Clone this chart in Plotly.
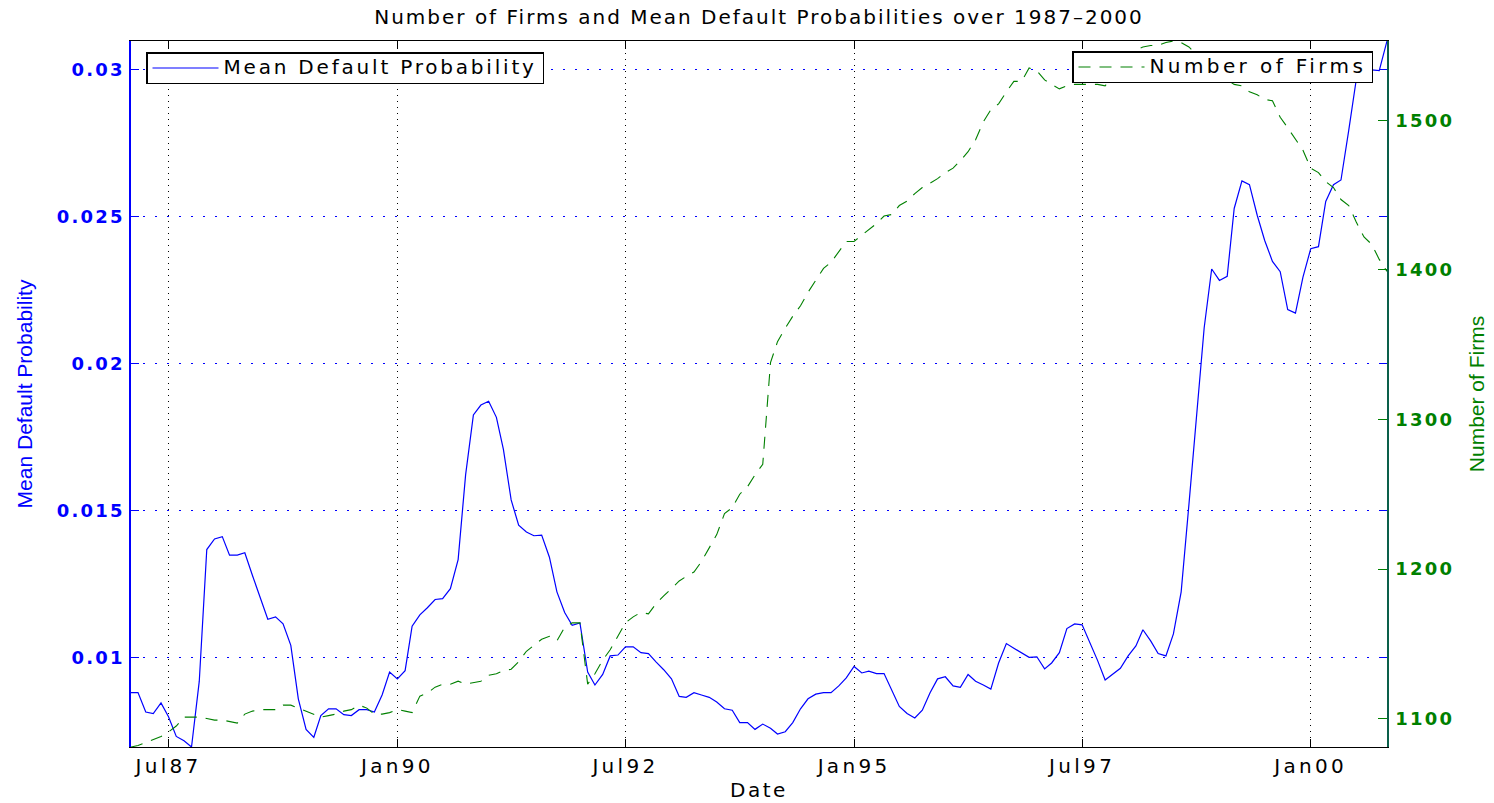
import pandas as pd
import plotly.graph_objects as go

# Monthly observations, Feb 1987 - Nov 2000
dates = pd.date_range("1987-02-01", periods=166, freq="MS")

mean_pd = [
    0.0088, 0.0088, 0.00814, 0.00809, 0.00845, 0.00798, 0.00731, 0.00716, 0.00695, 0.00919,
    0.01367, 0.01403, 0.01411, 0.01348, 0.01348, 0.01356, 0.01278, 0.01203, 0.01130, 0.01138,
    0.01114, 0.01041, 0.00859, 0.00755, 0.00728, 0.00802, 0.00825, 0.00825, 0.00805, 0.00802,
    0.00822, 0.00822, 0.00814, 0.00872, 0.0095, 0.00927, 0.00955, 0.01106, 0.01145, 0.01169,
    0.01197, 0.0120, 0.01234, 0.01333, 0.01622, 0.01825, 0.01859, 0.01872, 0.01817, 0.01708,
    0.01536, 0.0145, 0.01427, 0.01414, 0.01416, 0.01341, 0.01223, 0.01153, 0.01109, 0.01117,
    0.0095, 0.00906, 0.00942, 0.01005, 0.01008, 0.01036, 0.01036, 0.01016, 0.01013, 0.00984,
    0.00958, 0.00927, 0.00867, 0.00864, 0.0088, 0.00872, 0.00864, 0.00848, 0.00825, 0.0082,
    0.00778, 0.00778, 0.00755, 0.00773, 0.00759, 0.00739, 0.00747, 0.00778, 0.00825, 0.00859,
    0.00875, 0.0088, 0.0088, 0.00903, 0.0093, 0.00969, 0.00947, 0.00953, 0.00945, 0.00945,
    0.00887, 0.00833, 0.00809, 0.00794, 0.0082, 0.0088, 0.00927, 0.00934, 0.00903, 0.00898,
    0.00942, 0.00919, 0.00906, 0.00892, 0.00981, 0.01047, 0.01031, 0.01016, 0.0100, 0.01002,
    0.00961, 0.00981, 0.01016, 0.01098, 0.01114, 0.01111, 0.01052, 0.00989, 0.00923, 0.00942,
    0.00963, 0.01005, 0.01039, 0.01094, 0.01056, 0.01013, 0.01005, 0.0108, 0.01223, 0.0152,
    0.01817, 0.02122, 0.02322, 0.02283, 0.02297, 0.02528, 0.02622, 0.02609, 0.02505, 0.02419,
    0.02348, 0.02313, 0.02184, 0.02172, 0.02294, 0.02391, 0.02398, 0.02552, 0.02609, 0.02625,
    0.02794, 0.02966, 0.02994, 0.0300, 0.02997, 0.03098,
]

n_firms = [
    1081, 1082, 1084, 1086, 1088, 1091, 1095, 1101, 1101, 1101,
    1100, 1099, 1099, 1098, 1097, 1103, 1105, 1106, 1106, 1106,
    1109, 1109, 1107, 1105, 1103, 1101, 1102, 1103, 1105, 1106,
    1109, 1107, 1103, 1103, 1104, 1106, 1105, 1104, 1115, 1117,
    1121, 1123, 1123, 1125, 1123, 1124, 1125, 1129, 1130, 1132,
    1133, 1138, 1145, 1149, 1153, 1155, 1152, 1161, 1164, 1164,
    1123, 1130, 1139, 1146, 1155, 1164, 1168, 1171, 1170, 1177,
    1182, 1187, 1192, 1195, 1198, 1205, 1214, 1223, 1237, 1241,
    1250, 1255, 1263, 1270, 1338, 1352, 1361, 1369, 1376, 1385,
    1393, 1401, 1405, 1412, 1419, 1419, 1423, 1427, 1431, 1436,
    1437, 1443, 1446, 1451, 1455, 1458, 1461, 1465, 1468, 1473,
    1479, 1487, 1499, 1507, 1511, 1519, 1526, 1526, 1535, 1533,
    1527, 1524, 1521, 1523, 1524, 1524, 1524, 1524, 1523, 1530,
    1537, 1542, 1547, 1549, 1550, 1550, 1552, 1553, 1552, 1549,
    1544, 1539, 1535, 1530, 1527, 1524, 1523, 1519, 1517, 1514,
    1513, 1502, 1495, 1487, 1480, 1468, 1465, 1459, 1455, 1447,
    1443, 1432, 1422, 1417, 1407, 1399,
]

x_tick_dates = ["1987-07-01", "1990-01-01", "1992-07-01", "1995-01-01", "1997-07-01", "2000-01-01"]
x_tick_labels = ["Jul87", "Jan90", "Jul92", "Jan95", "Jul97", "Jan00"]
pd_ticks = [0.01, 0.015, 0.02, 0.025, 0.03]
pd_tick_labels = ["0.01", "0.015", "0.02", "0.025", "0.03"]
firm_ticks = [1100, 1200, 1300, 1400, 1500]
firm_tick_labels = ["1100", "1200", "1300", "1400", "1500"]

BLUE = "#0000ff"
GREEN = "#008000"
FONT = "DejaVu Sans, Liberation Sans, Arial, sans-serif"
SIDE_FONT = "Liberation Sans, Arial, sans-serif"


def wide(text, spacing, size=None, shift=None):
    """Wrap text in a span with wider letter spacing (optionally size / baseline shift)."""
    style = f"letter-spacing:{spacing}px"
    if size is not None:
        style += f";font-size:{size}px"
    if shift is not None:
        style += f";baseline-shift:{shift}px"
    return f'<span style="{style}">{text}</span>'


fig = go.Figure()
fig.add_trace(go.Scatter(
    x=dates, y=mean_pd, mode="lines",
    name=wide("Mean Default Probability", 2.8, 20, -2),
    line=dict(color=BLUE, width=1.2), legend="legend",
))
fig.add_trace(go.Scatter(
    x=dates, y=n_firms, mode="lines",
    name=wide("Number of Firms", 3.4, 20, -2), yaxis="y2",
    line=dict(color=GREEN, width=1.1, dash="12px,9px"), legend="legend2",
))

legend_common = dict(
    xref="paper", yref="paper", yanchor="top",
    bgcolor="white", bordercolor="black", borderwidth=1.5,
    font=dict(family=FONT, size=10, color="black"),
    itemwidth=66, tracegroupgap=0,
)

fig.update_layout(
    width=1494, height=803,
    margin=dict(l=131, r=107, t=41, b=56),
    paper_bgcolor="white", plot_bgcolor="white",
    font=dict(family=FONT, size=20, color="black"),
    title=dict(
        text=wide("Number of Firms and Mean Default Probabilities over 1987\u20132000", 2.0),
        x=0.5, xref="paper", xanchor="center",
        y=1 - 17 / 803, yref="container", yanchor="middle",
        font=dict(family=FONT, size=20, color="black"),
    ),
    xaxis=dict(
        type="date",
        range=[dates[0], dates[-1]],
        tickvals=x_tick_dates,
        ticktext=[wide(t, 3.3) for t in x_tick_labels],
        ticks="inside", ticklen=8, tickcolor="black", tickwidth=1,
        ticklabelstandoff=1,
        showline=True, linecolor="black", linewidth=1.2, mirror="ticks",
        showgrid=True, gridcolor="black", gridwidth=1, griddash="1px,5px",
        zeroline=False,
        tickfont=dict(family=FONT, size=20, color="black"),
        title=dict(text=wide("Date", 2.5), standoff=5,
                   font=dict(family=FONT, size=20, color="black")),
        automargin=False,
    ),
    yaxis=dict(
        range=[min(mean_pd), max(mean_pd)],
        tickvals=pd_ticks, ticktext=[wide(t, 2.2) for t in pd_tick_labels],
        ticks="inside", ticklen=8, tickcolor=BLUE, tickwidth=1,
        ticklabelstandoff=1,
        showline=True, linecolor=BLUE, linewidth=1.5, mirror="ticks",
        showgrid=True, gridcolor=BLUE, gridwidth=1, griddash="2px,10px",
        zeroline=False,
        tickfont=dict(family=FONT, size=18, color=BLUE, weight="bold"),
        title=dict(text="Mean Default Probability", standoff=18,
                   font=dict(family=SIDE_FONT, size=21, color=BLUE)),
        automargin=False,
    ),
    yaxis2=dict(
        overlaying="y", side="right", anchor="x",
        range=[min(n_firms), max(n_firms)],
        tickvals=firm_ticks, ticktext=[wide(t, 2.2) for t in firm_tick_labels],
        ticks="inside", ticklen=9, tickcolor=GREEN, tickwidth=1,
        ticklabelstandoff=3,
        showline=True, linecolor="#0a5f4a", linewidth=1.5,
        showgrid=False, zeroline=False,
        tickfont=dict(family=FONT, size=18, color=GREEN, weight="bold"),
        title=dict(text="Number of Firms", standoff=16,
                   font=dict(family=SIDE_FONT, size=21, color=GREEN)),
        automargin=False,
    ),
    legend=dict(x=(146 - 131) / 1256, y=(747 - 52) / 706, xanchor="left", **legend_common),
    legend2=dict(x=(1373 - 131) / 1256, y=(747 - 51) / 706, xanchor="right", **legend_common),
    showlegend=True,
)

fig.write_html("out.html")
